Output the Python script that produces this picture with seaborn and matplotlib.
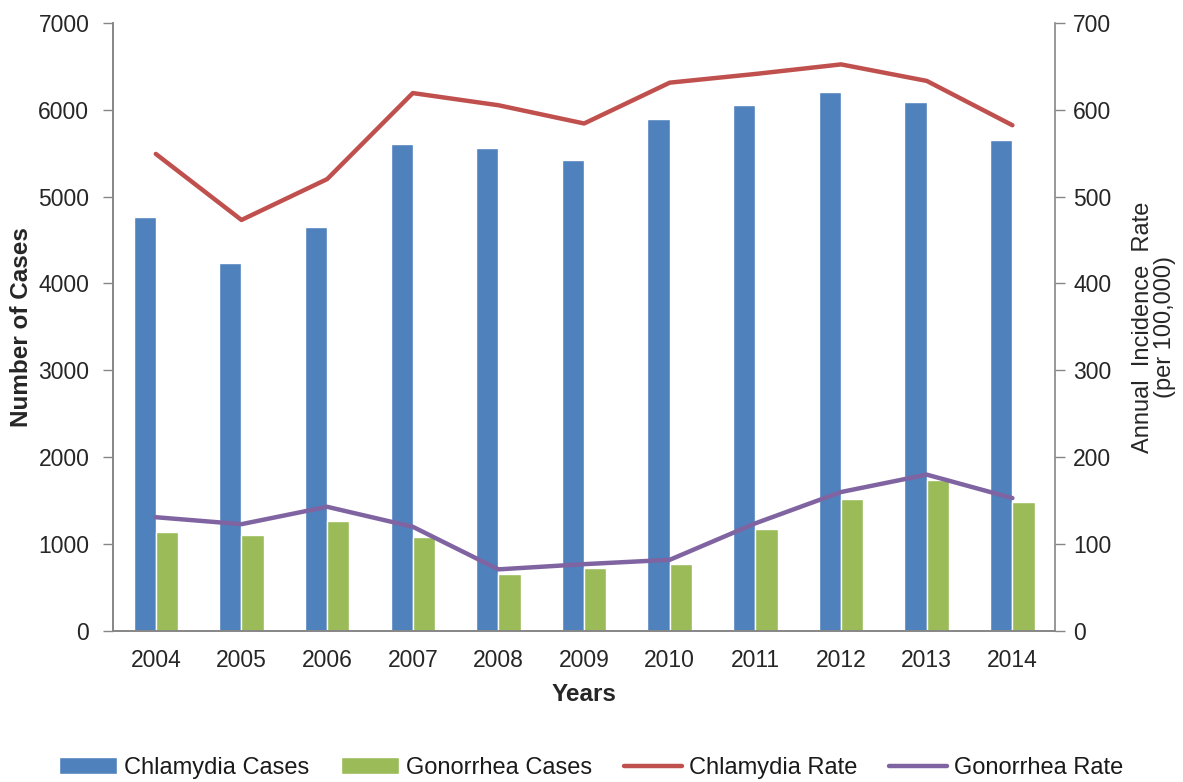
"""Chlamydia and gonorrhea cases with annual incidence rates, 2004-2014."""
import matplotlib
matplotlib.use("Agg")
import matplotlib.pyplot as plt
from matplotlib.lines import Line2D
from matplotlib.patches import Patch
import numpy as np
import pandas as pd
import seaborn as sns

YEARS = ["2004", "2005", "2006", "2007", "2008", "2009",
         "2010", "2011", "2012", "2013", "2014"]
CHLAMYDIA_CASES = [4765, 4235, 4650, 5605, 5558, 5422, 5890, 6052, 6203, 6083, 5655]
GONORRHEA_CASES = [1135, 1104, 1268, 1088, 655, 720, 768, 1172, 1518, 1737, 1487]
CHLAMYDIA_RATE = [549, 473, 520, 619, 605, 584, 631, 641, 652, 633, 582]
GONORRHEA_RATE = [131, 123, 143, 120, 71, 77, 82, 124, 160, 180, 153]

BLUE = "#4F81BD"
GREEN = "#9BBB59"
RED = "#C0504D"
PURPLE = "#8064A2"
AXIS_GREY = "#868686"

sns.set_style("white")
plt.rcParams["font.family"] = ["Liberation Sans", "DejaVu Sans"]
plt.rcParams["text.color"] = "#1a1a1a"

cases_df = pd.DataFrame({
    "Year": YEARS * 2,
    "Cases": CHLAMYDIA_CASES + GONORRHEA_CASES,
    "Series": ["Chlamydia Cases"] * len(YEARS) + ["Gonorrhea Cases"] * len(YEARS),
})

fig = plt.figure(figsize=(11.83, 7.82), dpi=100)
ax = fig.add_axes([0.0955, 0.193, 0.7965, 0.778])

sns.barplot(
    data=cases_df, x="Year", y="Cases", hue="Series",
    palette={"Chlamydia Cases": BLUE, "Gonorrhea Cases": GREEN},
    width=0.52, saturation=1, legend=False, ax=ax,
)

ax2 = ax.twinx()
pos = np.arange(len(YEARS))
sns.lineplot(x=pos, y=CHLAMYDIA_RATE, color=RED, linewidth=3.2, ax=ax2)
sns.lineplot(x=pos, y=GONORRHEA_RATE, color=PURPLE, linewidth=3.2, ax=ax2)

ax.set_xlim(-0.5, len(YEARS) - 0.5)
ax.set_ylim(0, 7000)
ax2.set_ylim(0, 700)
ax.set_yticks(np.arange(0, 7001, 1000))
ax2.set_yticks(np.arange(0, 701, 100))

ax.set_xticks(pos, labels=YEARS)
ax.set_xticks(np.arange(-0.5, len(YEARS), 1), minor=True)
ax.tick_params(axis="x", which="major", length=0, pad=13, labelsize=16.5)
ax.tick_params(axis="x", which="minor", length=7, width=1, color=AXIS_GREY, direction="out")
ax.tick_params(axis="y", length=7, width=1, color=AXIS_GREY, direction="out", labelsize=16.5, pad=10)
ax2.tick_params(axis="y", length=7, width=1, color=AXIS_GREY, direction="out", labelsize=16.5, pad=6)

for a in (ax, ax2):
    for side in ("left", "right", "bottom"):
        a.spines[side].set_color(AXIS_GREY)
        a.spines[side].set_linewidth(1.2)
    a.spines["top"].set_visible(False)
ax.spines["right"].set_visible(False)

ax.set_xlabel("Years", fontsize=17.5, fontweight="bold", labelpad=8)
ax.set_ylabel("Number of Cases", fontsize=17.5, fontweight="bold", labelpad=4)
ax2.set_ylabel("Annual  Incidence  Rate\n(per 100,000)", fontsize=17,
               labelpad=15, linespacing=1.0)

handles = [
    Patch(facecolor=BLUE, label="Chlamydia Cases"),
    Patch(facecolor=GREEN, label="Gonorrhea Cases"),
    Line2D([0], [0], color=RED, linewidth=3.2, label="Chlamydia Rate"),
    Line2D([0], [0], color=PURPLE, linewidth=3.2, label="Gonorrhea Rate"),
]
fig.legend(
    handles=handles, loc="center", bbox_to_anchor=(0.5, 1 - 768 / 782),
    ncol=4, frameon=False, fontsize=17, handlelength=2.45, handleheight=0.7,
    handletextpad=0.3, columnspacing=1.35,
)

fig.savefig("out.png", dpi=100)
